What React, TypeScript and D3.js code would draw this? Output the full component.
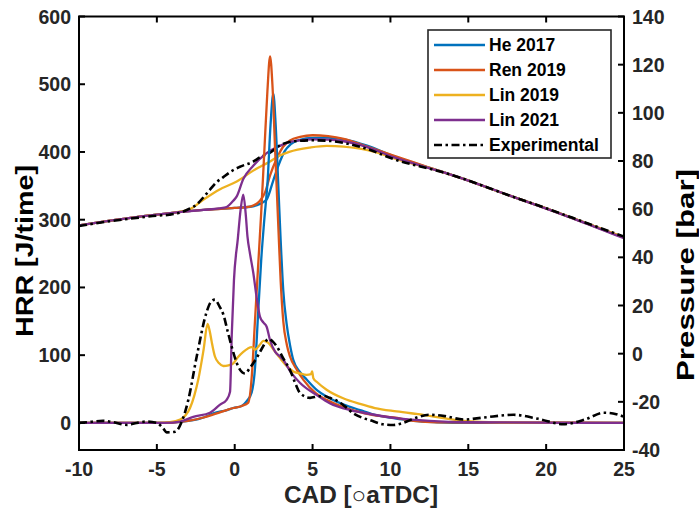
import React from 'react';
import * as d3 from 'd3';

// ---------- axis ticks ----------
const xTicks = [-10, -5, 0, 5, 10, 15, 20, 25];
const hrrTicks = [0, 100, 200, 300, 400, 500, 600];
const pTicks = [-40, -20, 0, 20, 40, 60, 80, 100, 120, 140];
const seriesNames = ['He 2017', 'Ren 2019', 'Lin 2019', 'Lin 2021', 'Experimental'];
const seriesColors = ['#0072BD', '#D95319', '#EDB120', '#7E2F8E', '#000000'];

// ---------- HRR (left axis, J/time) ----------
const heHrrCad = [-10, -5, -4, -3, -2.66, -2, -1.37, -0.5, -0.09, 0.45, 0.77, 1.09, 1.3, 1.5, 1.7, 1.9, 2.12, 2.3, 2.48, 2.63, 2.8, 2.95, 3.12, 3.33, 3.55, 3.76, 4.2, 4.62, 5.3, 5.9, 7, 8.05, 9, 10.2, 11.5, 13, 15, 25];
const heHrr = [0, 0, 0.5, 3, 4, 8, 14, 19, 22, 25, 32, 45, 80, 160, 240, 300, 360, 440, 486, 440, 350, 270, 195, 147, 115, 93, 75, 64, 48, 39, 27, 19, 12, 7, 3, 1, 0, 0];

const renHrrCad = [-10, -5, -4, -3, -2, -1.16, -0.52, -0.09, 0.45, 0.87, 1.1, 1.3, 1.5, 1.7, 1.9, 2.1, 2.27, 2.42, 2.6, 2.8, 2.95, 3.12, 3.35, 3.55, 4.0, 4.4, 5.2, 5.9, 7, 8.05, 9, 10.2, 11.5, 13, 25];
const renHrr = [0, 0, 0.5, 3, 8, 14, 19, 22, 25, 30, 70, 150, 230, 310, 400, 490, 541, 500, 400, 290, 210, 150, 115, 98, 78, 64, 44, 34, 23, 16, 11, 8, 3, 1, 0];

const lin19HrrCad = [-10, -5, -4.16, -3.5, -2.87, -2.6, -2.34, -2.0, -1.74, -1.6, -1.48, -1.27, -1.0, -0.73, -0.4, -0.09, 0.2, 0.55, 0.85, 1.09, 1.3, 1.6, 1.84, 2.16, 2.5, 2.9, 3.3, 3.76, 4.2, 4.62, 4.9, 4.97, 5.05, 5.3, 5.9, 7, 8.05, 9, 10.4, 12.1, 14.7, 17, 25];
const lin19Hrr = [0, 0, 1, 5, 22, 40, 64, 108, 146, 135, 120, 98, 88, 84, 85, 88, 97, 105, 110, 112, 108, 115, 121, 118, 108, 96, 85, 76, 73, 71, 72, 76, 66, 60, 49, 36, 28, 22, 17, 12, 3, 1, 0];

const lin21HrrCad = [-10, -4.5, -3.5, -2.66, -1.59, -0.94, -0.52, -0.3, -0.19, -0.05, 0.2, 0.38, 0.55, 0.7, 0.82, 0.98, 1.19, 1.41, 1.62, 1.85, 2.05, 2.27, 2.6, 2.9, 3.12, 3.6, 4.2, 5.27, 6.1, 7.4, 8.26, 10.4, 12.5, 15, 25];
const lin21Hrr = [0, 0, 2, 9, 15, 27, 34, 46, 130, 210, 272, 315, 337, 310, 275, 250, 222, 185, 157, 148, 142, 122, 105, 98, 93, 75, 59, 41, 29, 19, 15, 7, 3, 1, 0];

const expHrrCad = [-10, -9.5, -8.46, -7.8, -6.9, -6.3, -5.65, -5.0, -4.6, -4.37, -3.83, -3.4, -2.98, -2.44, -1.8, -1.55, -1.27, -0.98, -0.73, -0.45, -0.2, 0.23, 0.66, 1.0, 1.41, 1.8, 2.16, 2.45, 2.7, 3.1, 3.55, 3.9, 4.2, 4.84, 5.3, 5.7, 6.1, 6.55, 7.1, 7.62, 8.26, 8.69, 9.5, 10.2, 10.8, 11.7, 12.5, 13.5, 14.7, 16, 17.9, 19.5, 21.1, 22.5, 23.7, 24.3, 25];
const expHrr = [0, 1, 3, 1, -3, 0, 2, 0, -8, -14, -13, 2, 34, 98, 164, 178, 182, 172, 160, 135, 113, 83, 73, 82, 96, 112, 124, 120, 113, 96, 78, 58, 44, 37, 39, 40, 37, 33, 24, 14, 7, 4, -2, -3, 0, 8, 12, 10, 5, 8, 12, 6, -2, 5, 15, 14, 9];

// ---------- Pressure (right axis, bar) ----------
const heP_Cad = [-10, -8, -6, -4, -2, 0, 1, 1.62, 2.05, 2.48, 2.8, 3.2, 3.6, 4.2, 5, 6, 7, 8.5, 10.2, 13.2, 14.5, 17.5, 20, 21.7, 25];
const heP = [53.3, 55.2, 57, 58.5, 59.7, 60.5, 61, 62.2, 64, 72, 78, 84, 87, 88.8, 89.6, 89.7, 89, 86.4, 82, 75.8, 73, 66, 60.3, 56.3, 48.2];

const renP_Cad = [-10, -8, -6, -4, -2, 0, 1, 1.62, 1.95, 2.27, 2.7, 3.12, 3.55, 4.2, 5, 6, 7, 8.5, 10.2, 13.2, 14.5, 17.5, 20, 21.7, 25];
const renP = [53.3, 55.2, 57, 58.5, 59.7, 60.5, 61.1, 63.5, 67, 74, 81, 86, 88.5, 90, 90.7, 90.3, 89.2, 86, 82.2, 75.8, 73, 66, 60.3, 56.3, 48.2];

const lin19P_Cad = [-10, -8, -6, -4, -3.3, -2.87, -2.0, -0.94, 0.13, 1.19, 2.27, 2.9, 3.5, 4.84, 5.9, 7, 8.05, 9.1, 10.2, 13.2, 14.5, 17.5, 20, 21.7, 25];
const lin19P = [53.3, 55.2, 57, 58.5, 59.2, 60, 64, 68.3, 71.5, 76, 79.8, 82.3, 83.8, 85.6, 86.3, 86, 85.1, 83.6, 81.2, 75.7, 73, 66, 60.3, 56.3, 48.3];

const lin21P_Cad = [-10, -8, -6, -4, -2, -1, -0.52, -0.09, 0.13, 0.55, 1.19, 2.05, 2.9, 3.5, 4.2, 5, 6, 7, 8.5, 10.2, 13.2, 14.5, 17.5, 20, 21.7, 25];
const lin21P = [53.3, 55.2, 57, 58.5, 59.7, 60.3, 60.9, 63.5, 65.3, 72.5, 78, 83.3, 86.3, 87.8, 88.6, 89, 88.9, 88.2, 85.8, 81.6, 75.7, 73, 66, 60.2, 56.2, 47.9];

const expP_Cad = [-10, -8, -6, -5, -4.2, -3.3, -2.9, -2.45, -2, -1.59, -1.2, -0.75, -0.2, 0.3, 1.2, 1.62, 2.27, 2.9, 3.5, 4.2, 5, 6, 7, 8.5, 10.2, 13.2, 14.5, 17.5, 20, 21.7, 25];
const expP = [53, 55, 56.6, 57.3, 57.7, 59, 60.2, 61.9, 65, 68.1, 71, 73.2, 75.8, 77.5, 79.8, 81.5, 83.5, 86.5, 87.9, 88.4, 88.6, 88.4, 87.5, 85, 80.8, 75.6, 73, 66, 60.4, 56.4, 48.6];

const hrrCads = [heHrrCad, renHrrCad, lin19HrrCad, lin21HrrCad, expHrrCad];
const hrrVals = [heHrr, renHrr, lin19Hrr, lin21Hrr, expHrr];
const pCads = [heP_Cad, renP_Cad, lin19P_Cad, lin21P_Cad, expP_Cad];
const pVals = [heP, renP, lin19P, lin21P, expP];

export default function App() {
  const W = 699, H = 509;
  const L = 79, R = 624, T = 16.5, B = 450;
  const x = d3.scaleLinear().domain([-10, 25]).range([L, R]);
  const yL = d3.scaleLinear().domain([-40, 600]).range([B, T]);
  const yR = d3.scaleLinear().domain([-40, 140]).range([B, T]);
  const font = '"Liberation Sans", Arial, sans-serif';
  const tickColor = '#262626';

  const mkLine = (ys: d3.ScaleLinear<number, number>) =>
    d3.line<[number, number]>().x(d => x(d[0])).y(d => ys(d[1])).curve(d3.curveMonotoneX);

  const lineL = mkLine(yL);
  const lineR = mkLine(yR);

  const paths = (cads: number[][], vals: number[][], gen: any, key: string) =>
    cads.map((c, i) => {
      const pts: [number, number][] = c.map((v, j) => [v, vals[i][j]]);
      const isExp = i === 4;
      return (
        <path key={key + i} d={gen(pts) || ''} fill="none" stroke={seriesColors[i]}
          strokeWidth={isExp ? 2.6 : 2.3}
          strokeDasharray={isExp ? '8,3.5,2.5,3.5' : undefined}
          strokeLinejoin="round" />
      );
    });

  const legX = 428, legY = 30, legW = 183, legH = 128;
  return (
    <svg width={W} height={H} style={{ position: 'absolute', left: 0, top: 0, background: '#fff' }}
      fontFamily={font}>
      <rect x={0} y={0} width={W} height={H} fill="#fff" />
      <defs>
        <clipPath id="plotClip">
          <rect x={L} y={T} width={R - L} height={B - T} />
        </clipPath>
      </defs>
      <g clipPath="url(#plotClip)">
        {paths(pCads, pVals, lineR, 'p')}
        {paths(hrrCads, hrrVals, lineL, 'h')}
      </g>
      {/* box */}
      <rect x={L} y={T} width={R - L} height={B - T} fill="none" stroke="#000" strokeWidth={2} />
      {/* x ticks */}
      {xTicks.map(t => (
        <g key={'xt' + t}>
          <line x1={x(t)} x2={x(t)} y1={B} y2={B - 6} stroke="#000" strokeWidth={2} />
          <line x1={x(t)} x2={x(t)} y1={T} y2={T + 6} stroke="#000" strokeWidth={2} />
          <text x={x(t)} y={B + 26} textAnchor="middle" fontSize={19.5} fontWeight="bold" fill={tickColor}>{t}</text>
        </g>
      ))}
      {/* left ticks */}
      {hrrTicks.map(t => (
        <g key={'yl' + t}>
          <line x1={L} x2={L + 6} y1={yL(t)} y2={yL(t)} stroke="#000" strokeWidth={2} />
          <text x={L - 8} y={yL(t) + 7} textAnchor="end" fontSize={19.5} fontWeight="bold" fill={tickColor}>{t}</text>
        </g>
      ))}
      {/* right ticks */}
      {pTicks.map(t => (
        <g key={'yr' + t}>
          <line x1={R} x2={R - 6} y1={yR(t)} y2={yR(t)} stroke="#000" strokeWidth={2} />
          <text x={R + 8} y={yR(t) + 7} textAnchor="start" fontSize={19.5} fontWeight="bold" fill={tickColor}>{t}</text>
        </g>
      ))}
      {/* axis labels */}
      <text x={361} y={503} textAnchor="middle" fontSize={23} fontWeight="bold" fill={tickColor}
        textLength={154} lengthAdjust="spacingAndGlyphs">CAD [○aTDC]</text>
      <text transform={`translate(33,${251}) rotate(-90)`} textAnchor="middle" fontSize={24} fontWeight="bold" fill="#000"
        textLength={172} lengthAdjust="spacingAndGlyphs">HRR [J/time]</text>
      <text transform={`translate(694,${275}) rotate(-90)`} textAnchor="middle" fontSize={24} fontWeight="bold" fill="#000"
        textLength={212} lengthAdjust="spacingAndGlyphs">Pressure [bar]</text>
      {/* legend */}
      <rect x={legX} y={legY} width={legW} height={legH} fill="#fff" stroke="#262626" strokeWidth={1.6} />
      {seriesNames.map((n, i) => {
        const yy = 45 + i * 25;
        return (
          <g key={'lg' + i}>
            <line x1={434} x2={485} y1={yy} y2={yy} stroke={seriesColors[i]} strokeWidth={i === 4 ? 2.6 : 2.3}
              strokeDasharray={i === 4 ? '8,3.5,2.5,3.5' : undefined} />
            <text x={489} y={yy + 6} fontSize={17.5} fontWeight="bold" fill="#000">{n}</text>
          </g>
        );
      })}
    </svg>
  );
}
